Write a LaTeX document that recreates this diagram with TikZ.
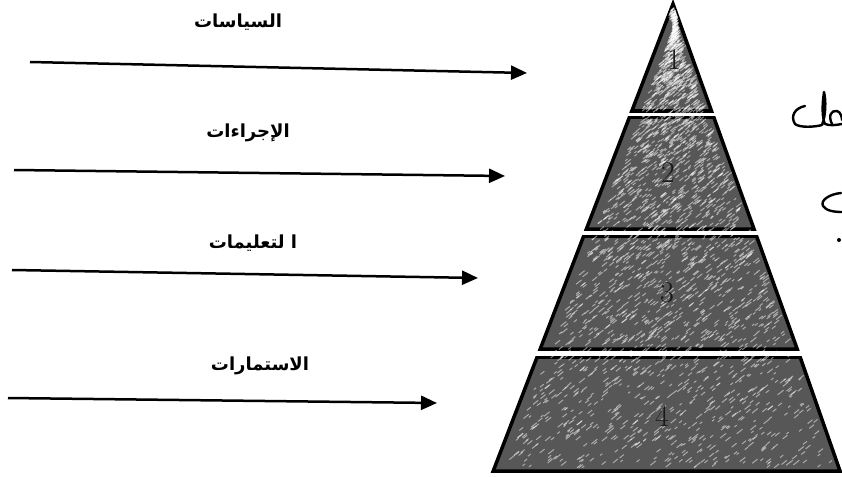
\documentclass[tikz,border=0pt]{standalone}
\usepackage{fontspec}
\newfontfamily\arabicfont[Script=Arabic]{DejaVu Sans}
\TeXXeTstate=1
\usetikzlibrary{arrows.meta}
\tikzset{
  lbl/.style={font=\arabicfont\bfseries\fontsize{18}{22}\selectfont, inner sep=0pt},
  arr/.style={line width=2.5pt, -{Triangle[length=16pt,width=14pt]}},
  tier/.style={fill=black!66, draw=black, line width=3.5pt, line join=miter},
  num/.style={font=\fontsize{30}{32}\selectfont, text=black!90, inner sep=0pt},
  hand/.style={line width=2.4pt, line cap=round, line join=round}
}
\begin{document}
\begin{tikzpicture}[x=1pt,y=-1pt]
\useasboundingbox (0,0) rectangle (842,476);
% pyramid tiers
\path[tier] (673,4) -- (631.8,111) -- (711.5,111) -- cycle;
\path[tier] (629.5,117) -- (586.4,229) -- (754,229) -- (713.7,117) -- cycle;
\path[tier] (583.7,236) -- (540.2,349) -- (797.2,349) -- (756.5,236) -- cycle;
\path[tier] (537.1,357) -- (493.2,471) -- (840,471) -- (800.1,357) -- cycle;
% texture
\pgfmathsetseed{7}
\begin{scope}
\clip (673,4) -- (493.2,471) -- (840,471) -- cycle;
\foreach \i in {1,...,2600}{
  \pgfmathsetmacro{\yy}{10+458*rnd}
  \pgfmathsetmacro{\xl}{673-0.385*(\yy-4)+9}
  \pgfmathsetmacro{\xr}{673+0.36*(\yy-4)-9}
  \pgfmathsetmacro{\xx}{\xl+(\xr-\xl)*rnd}
  \pgfmathsetmacro{\dx}{2+4*rnd}
  \draw[white, opacity=0.5, line width=1pt] (\xx,\yy) -- ++(\dx,-\dx*0.8);
}
\end{scope}
% white gaps redrawn
\fill[white] (600,112.6) rectangle (740,115.6);
\fill[white] (560,230.6) rectangle (780,234.6);
\fill[white] (520,350.6) rectangle (820,355.6);
% numbers
\node[num] (n1) at (674,60) {1};
\node[num] (n2) at (668,173) {2};
\node[num] (n3) at (667,293) {3};
\node[num] (n4) at (662,416) {4};
% labels
\node[lbl] (l1) at (238,22) {\beginR السياسات\endR};
\node[lbl] (l2) at (248,133) {\beginR الإجراءات\endR};
\node[lbl] (l3) at (253,243) {\beginR ا لتعليمات\endR};
\node[lbl] (l4) at (260,366) {\beginR الاستمارات\endR};
% arrows
\coordinate (a1s) at (30,62);  \coordinate (a1e) at (527,73);
\coordinate (a2s) at (14,170); \coordinate (a2e) at (505,176);
\coordinate (a3s) at (12,270); \coordinate (a3e) at (478,278);
\coordinate (a4s) at (8,398);  \coordinate (a4e) at (437,403);
\draw[arr] (a1s) -- (a1e);
\draw[arr] (a2s) -- (a2e);
\draw[arr] (a3s) -- (a3e);
\draw[arr] (a4s) -- (a4e);
% handwritten fragments at right edge
\draw[hand] (805,106) .. controls (795,108) and (790,116) .. (795,124)
  .. controls (800,128) and (815,127) .. (822,125)
  .. controls (826,115) and (826,100) .. (824,92)
  .. controls (822,105) and (822,118) .. (825,124)
  .. controls (830,126) and (836,125) .. (842,124);
\draw[hand] (832,124) .. controls (828,116) and (831,110) .. (837,111)
  .. controls (841,112) and (842,118) .. (842,120);
\draw[hand] (841,193) .. controls (830,194) and (820,200) .. (823,206)
  .. controls (826,211) and (835,212) .. (842,212);
\fill (839,240) circle (2);
\end{tikzpicture}
\end{document}
